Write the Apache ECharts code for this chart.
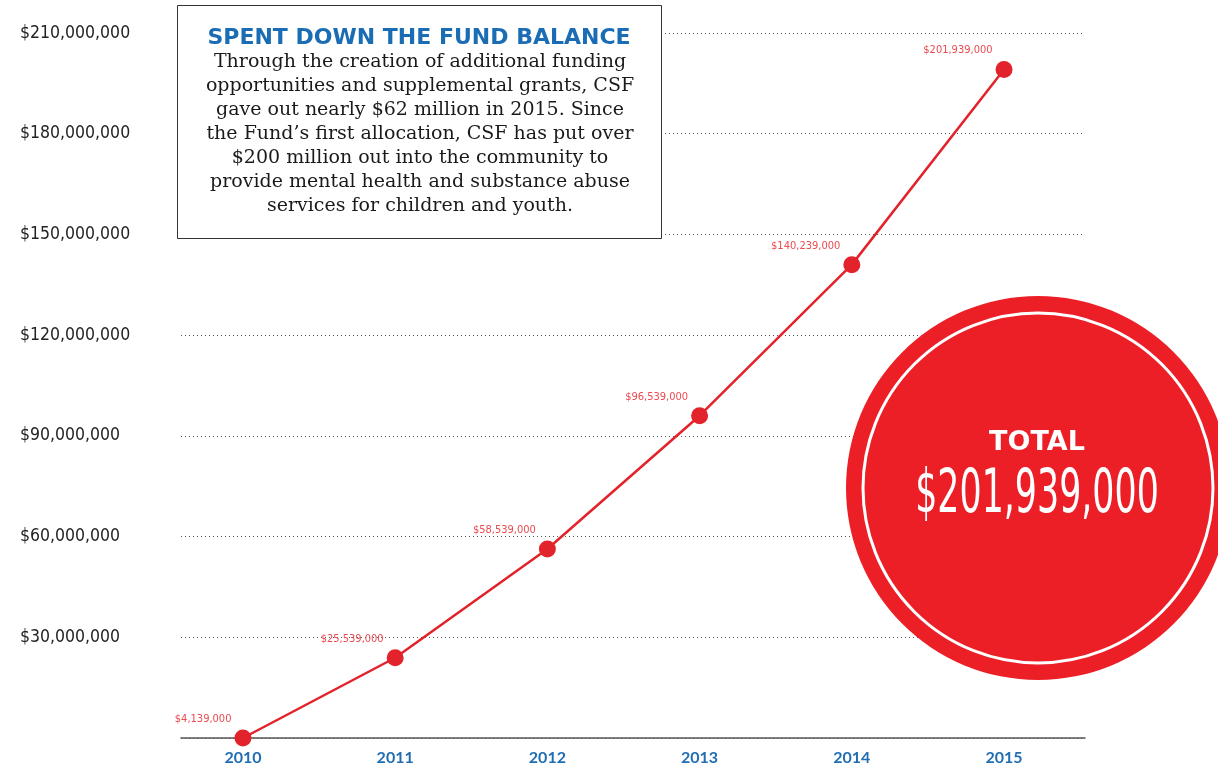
<!DOCTYPE html>
<html>
<head>
<meta charset="utf-8">
<script src="https://cdn.jsdelivr.net/npm/echarts@6/dist/echarts.min.js"></script>
<style>html,body{margin:0;padding:0;background:#fff}#c{width:1218px;height:772px}</style>
</head>
<body>
<div id="c"></div>
<script>
// Data
var years = [2010, 2011, 2012, 2013, 2014, 2015];
var plottedValues = [0, 23900000, 56300000, 96000000, 141000000, 199100000];
var pointLabels = ['$4,139,000', '$25,539,000', '$58,539,000', '$96,539,000', '$140,239,000', '$201,939,000'];
var yTicks = [0, 30000000, 60000000, 90000000, 120000000, 150000000, 180000000, 210000000];
var titleText = 'SPENT DOWN THE FUND BALANCE';
var bodyText = ['Through the creation of additional funding',
  'opportunities and supplemental grants, CSF',
  'gave out nearly $62 million in 2015. Since',
  'the Fund\u2019s first allocation, CSF has put over',
  '$200 million out into the community to',
  'provide mental health and substance abuse',
  'services for children and youth.'];
var totalLabel = 'TOTAL';
var totalValue = '$201,939,000';

var NARROW = "'Liberation Sans Narrow', 'DejaVu Sans Condensed', 'Roboto', sans-serif";
var chart = echarts.init(document.getElementById('c'));
function fmt(v) {
  return '$' + String(Math.round(v)).replace(/\B(?=(\d{3})+(?!\d))/g, ',');
}
chart.setOption({
  animation: false,
  grid: {left: 181, right: 133, top: 33, bottom: 34, containLabel: false},
  xAxis: {
    type: 'value', min: 2009.593, max: 2015.532,
    axisLine: {show: true, lineStyle: {color: '#555', width: 1.5}},
    axisTick: {show: false},
    splitLine: {show: false},
    axisLabel: {
      customValues: years, margin: 12,
      color: '#1f6db3', fontWeight: 'bold', fontSize: 16, fontFamily: 'Lato, sans-serif',
      formatter: function (v) { return String(v); }
    }
  },
  yAxis: {
    type: 'value', min: yTicks[0], max: yTicks[yTicks.length - 1], interval: yTicks[1] - yTicks[0],
    axisLine: {show: false}, axisTick: {show: false},
    splitLine: {show: true, lineStyle: {color: '#555', type: [1, 3], width: 1}},
    axisLabel: {
      align: 'left', margin: 161, color: '#222', fontSize: 17.5, fontFamily: NARROW,
      formatter: function (v) { return v === 0 ? '' : fmt(v); }
    }
  },
  series: [{
    type: 'line',
    data: years.map(function (y, i) { return [y, plottedValues[i]]; }),
    symbol: 'circle', symbolSize: 17,
    lineStyle: {color: '#e3232b', width: 2.5},
    itemStyle: {color: '#e3232b'},
    label: {
      show: true, position: 'left', distance: 3, offset: [0, -19],
      color: '#ea4b50', fontSize: 11, fontFamily: NARROW,
      formatter: function (p) { return pointLabels[p.dataIndex]; }
    },
    z: 5
  }],
  graphic: [
    {type: 'rect', z: 100, shape: {x: 177.5, y: 5.5, width: 484, height: 233},
      style: {fill: '#fff', stroke: '#333', lineWidth: 1}},
    {type: 'text', z: 101, x: 419, y: 38,
      style: {text: titleText, fill: '#1a6db5', font: "bold 22px 'DejaVu Sans', sans-serif",
        textAlign: 'center', textVerticalAlign: 'middle'}},
    {type: 'text', z: 101, x: 420, y: 50,
      style: {text: bodyText.join('\n'), fill: '#1a1a1a', font: "19px 'DejaVu Serif', serif",
        lineHeight: 24, textAlign: 'center', textVerticalAlign: 'top'}},
    {type: 'circle', z: 100, shape: {cx: 1038, cy: 488, r: 192}, style: {fill: '#ec1f27'}},
    {type: 'circle', z: 101, shape: {cx: 1038, cy: 488, r: 175}, style: {fill: 'none', stroke: '#fff', lineWidth: 3}},
    {type: 'text', z: 102, x: 1037, y: 443,
      style: {text: totalLabel, fill: '#fff', font: "bold 27px 'DejaVu Sans', sans-serif",
        textAlign: 'center', textVerticalAlign: 'middle'}},
    {type: 'text', z: 102, x: 1037, y: 496, scaleX: 0.645,
      style: {text: totalValue, fill: '#fff', font: "60px " + NARROW,
        textAlign: 'center', textVerticalAlign: 'middle'}}
  ]
});
</script>
</body>
</html>
